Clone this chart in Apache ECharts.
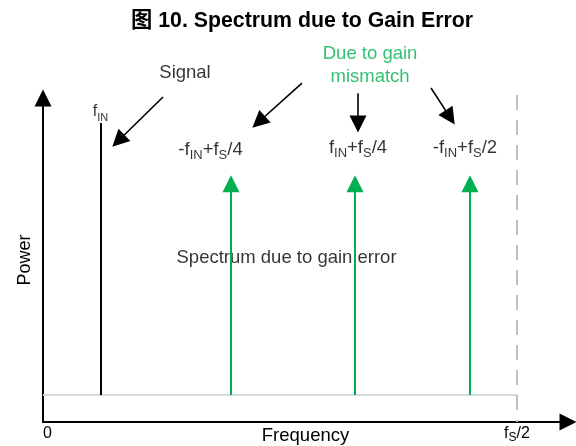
<!DOCTYPE html>
<html>
<head>
<meta charset="utf-8">
<script src="https://cdn.jsdelivr.net/npm/echarts@6/dist/echarts.min.js"></script>
<style>
  html, body { margin: 0; padding: 0; background: #fff; }
  #chart { width: 576px; height: 446px; }
</style>
</head>
<body>
<div id="chart"></div>
<script>
// frequency normalised to fs = 1 (so fs/2 = 0.5), power in arbitrary units
const xTickValues = [0, 0.5]
const xTickLabels = ['0', 'f{s|S}/2']

const noiseFloor = 8.3
const signalFreq = 0.0612
const signalPower = 92.3
const spurFreqs = [0.1983, 0.3291, 0.4504]
const spurPower = 73.5
const nyquistTop = 100.9

// callout arrows, start -> end
const arrowStarts = [[0.1266, 100.3], [0.2732, 104.6], [0.3323, 101.5], [0.4093, 103.1]]
const arrowEnds = [[0.0795, 86.8], [0.2275, 92.6], [0.3323, 92.0], [0.4294, 94.0]]

// text annotations
const labelTexts = [
  'Signal',
  'Due to gain\nmismatch',
  'f{fs|IN}',
  '-f{s|IN}+f{s|S}/4',
  'f{s|IN}+f{s|S}/4',
  '-f{s|IN}+f{s|S}/2',
  'Spectrum due to gain error'
]
const labelX = [0.1498, 0.345, 0.0607, 0.1767, 0.3323, 0.4451, 0.2569]
const labelY = [107.6, 110.0, 95.8, 84.0, 84.6, 84.6, 50.6]
const labelColors = ['#000', '#00b050', '#000', '#000', '#000', '#000', '#000']
const labelSizes = [18.5, 18.5, 16, 18.5, 18.5, 18.5, 18.5]

const FONT = '"Liberation Sans", Arial, "Noto Sans CJK SC", sans-serif'
const GREEN = '#00b050'

const chart = echarts.init(document.getElementById('chart'))

const labelData = labelTexts.map((t, i) => ({
  value: [labelX[i], labelY[i]],
  label: {
    formatter: t,
    color: labelColors[i],
    fontSize: labelSizes[i],
    lineHeight: i === 1 ? 23 : 24
  }
}))

const option = {
  animation: false,
  title: {
    text: '图 10. Spectrum due to Gain Error',
    left: 131,
    top: 10,
    padding: 0,
    textStyle: { fontFamily: FONT, fontSize: 21.3, fontWeight: 'bold', color: '#000' }
  },
  grid: { left: 43, right: 8, top: 98, bottom: 24, outerBoundsMode: 'none' },
  xAxis: {
    type: 'value',
    min: 0,
    max: 0.5538,
    interval: 0.5,
    name: 'Frequency',
    nameLocation: 'middle',
    nameGap: 5,
    nameMoveOverlap: false,
    nameTextStyle: { fontFamily: FONT, fontSize: 18.5, color: '#000', verticalAlign: 'top' },
    axisLine: {
      lineStyle: { color: '#000', width: 2 },
      symbol: ['none', 'triangle'],
      symbolSize: [17, 17]
    },
    axisTick: { show: false },
    splitLine: { show: false },
    axisLabel: {
      margin: 2,
      alignMinLabel: 'left',
      showMaxLabel: false,
      fontFamily: FONT,
      fontSize: 16,
      lineHeight: 20,
      color: '#000',
      formatter: v => {
        const k = xTickValues.findIndex(t => Math.abs(t - v) < 1e-6)
        return k >= 0 ? xTickLabels[k] : ''
      },
      rich: { s: { fontFamily: FONT, fontSize: 12, lineHeight: 8, verticalAlign: 'bottom', color: '#000' } }
    }
  },
  yAxis: {
    type: 'value',
    min: 0,
    max: 100,
    name: 'Power',
    nameLocation: 'middle',
    nameGap: 9,
    nameMoveOverlap: false,
    nameTextStyle: { fontFamily: FONT, fontSize: 18, color: '#000' },
    axisLine: {
      show: true,
      lineStyle: { color: '#000', width: 2 },
      symbol: ['none', 'triangle'],
      symbolSize: [17, 17]
    },
    axisTick: { show: false },
    axisLabel: { show: false },
    splitLine: { show: false }
  },
  series: [
    {
      // text annotations, drawn below the spectral lines
      type: 'scatter',
      z: 1,
      silent: true,
      clip: false,
      symbolSize: 1,
      itemStyle: { color: 'rgba(0,0,0,0)' },
      label: {
        show: true,
        position: 'inside',
        fontFamily: FONT,
        rich: {
          s: { fontFamily: FONT, fontSize: 13, lineHeight: 10, verticalAlign: 'bottom' },
          fs: { fontFamily: FONT, fontSize: 11, lineHeight: 10, verticalAlign: 'bottom' }
        }
      },
      data: labelData
    },
    {
      // noise floor, nyquist marker and the input tone
      type: 'lines',
      coordinateSystem: 'cartesian2d',
      z: 2,
      silent: true,
      clip: false,
      symbol: 'none',
      data: [
        { coords: [[0, noiseFloor], [0.5, noiseFloor]], lineStyle: { color: '#d9d9d9', width: 2, opacity: 1 } },
        { coords: [[0.5, nyquistTop], [0.5, 0]], lineStyle: { color: '#bfbfbf', width: 2, type: [15, 10], opacity: 1 } },
        { coords: [[signalFreq, noiseFloor], [signalFreq, signalPower]], lineStyle: { color: '#000', width: 2, opacity: 1 } }
      ]
    },
    {
      // gain mismatch spurs
      type: 'lines',
      coordinateSystem: 'cartesian2d',
      z: 3,
      silent: true,
      clip: false,
      symbol: ['none', 'triangle'],
      symbolSize: 17,
      lineStyle: { color: GREEN, width: 2, opacity: 1 },
      data: spurFreqs.map(f => ({ coords: [[f, noiseFloor], [f, spurPower]] }))
    },
    {
      // callout arrows
      type: 'lines',
      coordinateSystem: 'cartesian2d',
      z: 3,
      silent: true,
      clip: false,
      symbol: ['none', 'triangle'],
      symbolSize: 17,
      lineStyle: { color: '#000', width: 1.6, opacity: 1 },
      data: arrowStarts.map((s, i) => ({ coords: [s, arrowEnds[i]] }))
    }
  ]
}

chart.setOption(option)
</script>
</body>
</html>
